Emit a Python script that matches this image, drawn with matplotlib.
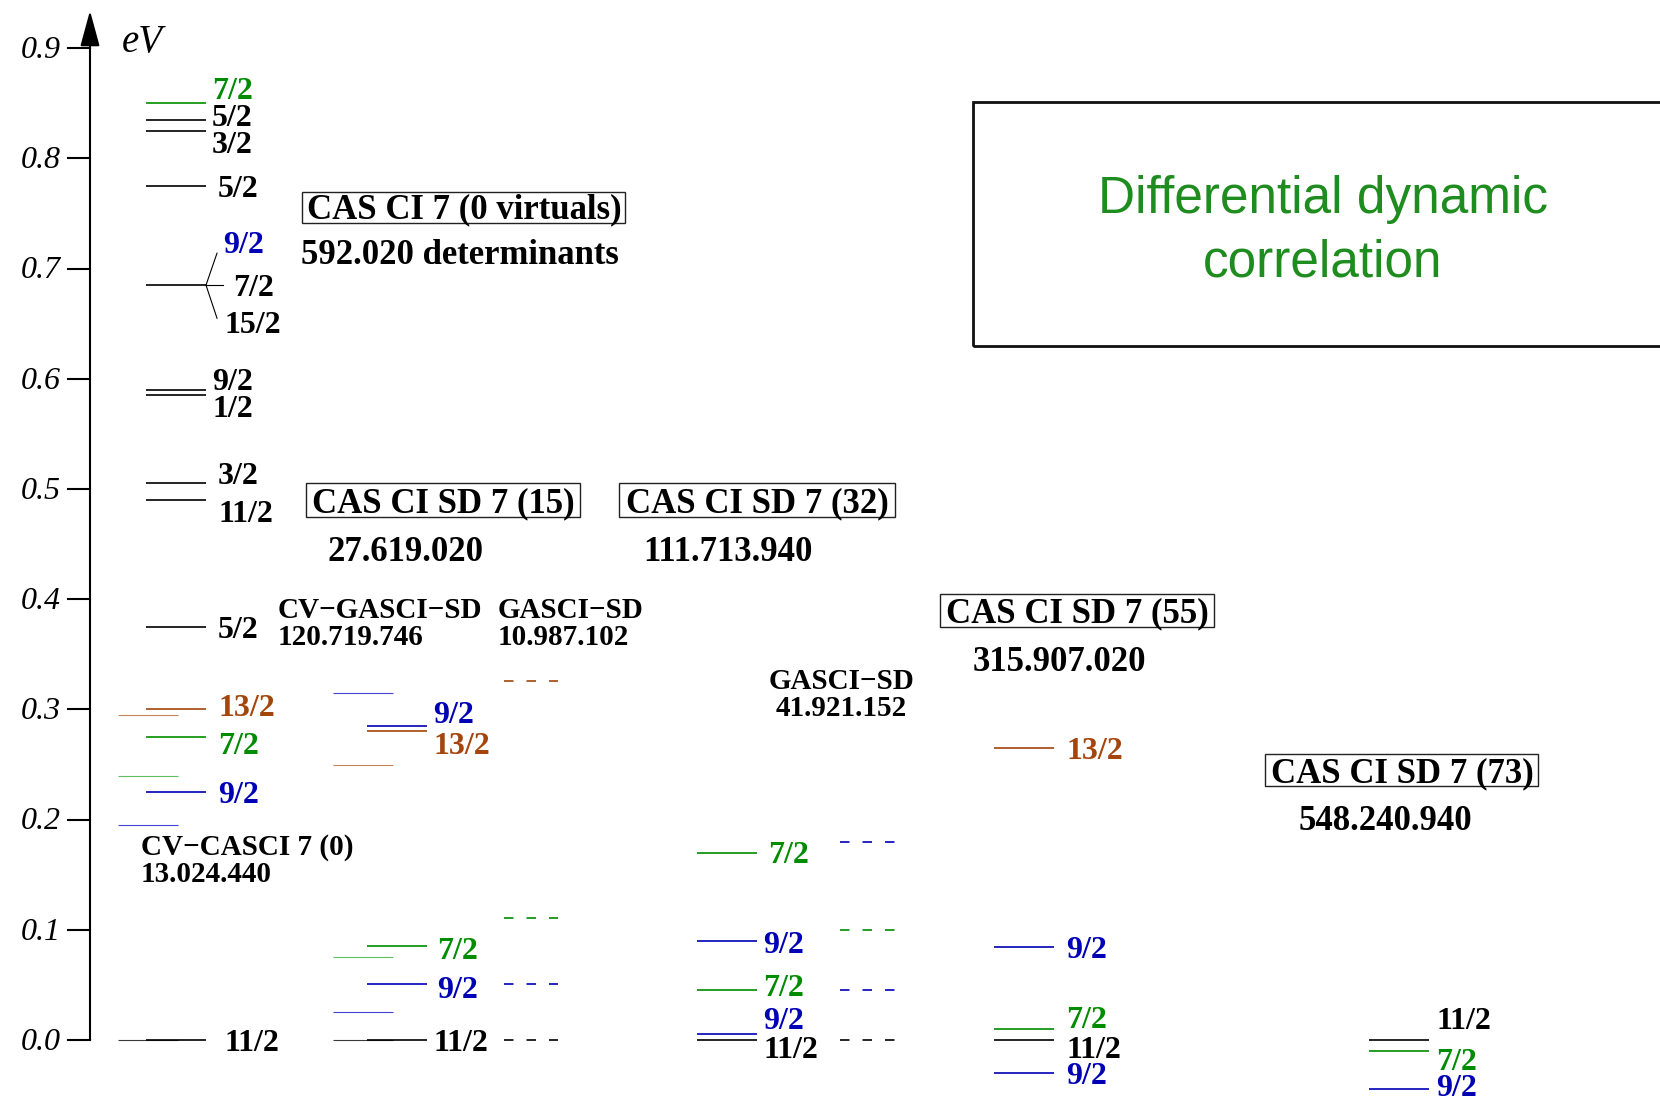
import matplotlib
matplotlib.use('Agg')
import matplotlib.pyplot as plt
from matplotlib.patches import Rectangle

plt.rcParams['font.family'] = ['Liberation Serif', 'DejaVu Serif']

# colours
K, OR, GR, BL = '#000000', '#a3450c', '#008c00', '#0000b4'
OR_L, GR_L, BL_L, K_L = '#c98458', '#5dbf5d', '#4444d4', '#3a3a3a'

# ---- data: energies in eV ----
# CV-CASCI 7 (0)  (thin lines, no labels)
cvcas_E = [0.295, 0.240, 0.195, 0.0]
cvcas_c = [OR_L, GR_L, BL_L, K_L]

# CAS CI 7 (0 virtuals)
cas0_E = [0.850, 0.835, 0.825, 0.775, 0.685, 0.590, 0.585, 0.505, 0.490,
          0.375, 0.300, 0.275, 0.225, 0.0]
cas0_c = [GR, K, K, K, K, K, K, K, K, K, OR, GR, BL, K]
cas0_lab = ['7/2', '5/2', '3/2', '5/2', '9/2', '7/2', '15/2', '9/2', '1/2',
            '3/2', '11/2', '5/2', '13/2', '7/2', '9/2', '11/2']
cas0_labc = [GR, K, K, K, BL, K, K, K, K, K, K, K, OR, GR, BL, K]

# CV-GASCI-SD (thin lines)
cvgas_E = [0.315, 0.250, 0.0755, 0.0252, 0.0]
cvgas_c = [BL_L, OR_L, GR_L, BL_L, K_L]

# CAS CI SD 7 (15)
sd15_E = [0.285, 0.280, 0.0855, 0.0506, 0.0]
sd15_c = [BL, OR, GR, BL, K]
sd15_lab = ['9/2', '13/2', '7/2', '9/2', '11/2']

# GASCI-SD 10.987.102 (dashed)
gas1_E = [0.3256, 0.1106, 0.0506, 0.0]
gas1_c = [OR, GR, BL, K]

# CAS CI SD 7 (32)
sd32_E = [0.170, 0.090, 0.0454, 0.0052, 0.0]
sd32_c = [GR, BL, GR, BL, K]
sd32_lab = ['7/2', '9/2', '7/2', '9/2', '11/2']

# GASCI-SD 41.921.152 (dashed)
gas2_E = [0.180, 0.0998, 0.0454, 0.0]
gas2_c = [BL, GR, BL, K]

# CAS CI SD 7 (55)
sd55_E = [0.265, 0.0847, 0.010, 0.0, -0.030]
sd55_c = [OR, BL, GR, K, BL]
sd55_lab = ['13/2', '9/2', '7/2', '11/2', '9/2']

# CAS CI SD 7 (73)
sd73_E = [0.0, -0.0097, -0.0447]
sd73_c = [K, GR, BL]
sd73_lab = ['11/2', '7/2', '9/2']

yticks = [0.0, 0.1, 0.2, 0.3, 0.4, 0.5, 0.6, 0.7, 0.8, 0.9]

# ---- layout (x in pixels, label heights in eV) ----
cas0_laby = [0.864, 0.839, 0.815, 0.775, 0.724, 0.685, 0.651, 0.600, 0.575,
             0.5145, 0.480, 0.375, 0.304, 0.2695, 0.225, 0.0]
cas0_labx = [212, 212, 212, 218, 223, 233, 224, 212, 212,
             218, 218, 218, 218, 218, 218, 224]
sd15_laby = [0.2976, 0.2695, 0.0835, 0.048, 0.0]
sd15_labx = [433, 433, 437, 437, 433]
sd32_laby = [0.170, 0.089, 0.050, 0.020, -0.0064]
sd32_labx = [768, 763, 763, 763, 763]
sd55_laby = [0.265, 0.084, 0.021, -0.0064, -0.030]
sd73_laby = [0.020, -0.0172, -0.0408]

fig = plt.figure(figsize=(16.6, 10.96), dpi=100)
ax = fig.add_axes([0, 0, 1, 1])
ax.set_xlim(0, 1660)
ax.set_ylim((1040 - 1096) / 1102, 1040 / 1102)
ax.axis('off')

LW, LW_T = 1.2, 0.8
FS = 23
dash = (0, (5.7, 7.8))
DY = 0.003  # visual centring of digits


def levels(E, cols, x0, x1, lw=LW, ls='-'):
    for e, c in zip(E, cols):
        ax.plot([x0, x1], [e, e], color=c, lw=lw, ls=ls, solid_capstyle='butt',
                dash_capstyle='butt')


def txt(x, y, s, fs, ha='left', **kw):
    ax.text(x, y - DY, s, fontsize=fs, fontweight='bold', ha=ha, va='center', **kw)


def labels(lab, cols, xs, ys, fs=FS):
    for t, c, x, y in zip(lab, cols, xs, ys):
        txt(x, y, t, fs, color=c)


def box(x0, x1, e0, e1):
    ax.add_patch(Rectangle((x0, e0), x1 - x0, e1 - e0, fill=False, ec='#222222', lw=1.0))


# energy axis
ax.annotate('', xy=(90, 0.934), xytext=(90, 0.0),
            arrowprops=dict(arrowstyle='-|>,head_length=1.1,head_width=0.3',
                            mutation_scale=20, lw=1.5, color='k', shrinkA=0, shrinkB=0))
for t in yticks:
    ax.plot([68, 90], [t, t], color='k', lw=1.5)
    ax.text(61, t - 0.002, f'{t:.1f}', fontsize=FS, style='italic', ha='right', va='center')
ax.text(122, 0.905, 'eV', fontsize=28, style='italic', ha='left', va='center')

# columns
levels(cvcas_E, cvcas_c, 118, 178, lw=LW_T)
levels(cas0_E, cas0_c, 146, 206)
labels(cas0_lab, cas0_labc, cas0_labx, cas0_laby)
# fan for the degenerate 0.685 level
for ye, xe in [(0.714, 217), (0.685, 223), (0.655, 217)]:
    ax.plot([206, xe], [0.685, ye], color='k', lw=0.8)

levels(cvgas_E, cvgas_c, 333, 393, lw=LW_T)
levels(sd15_E, sd15_c, 367, 427)
labels(sd15_lab, sd15_c, sd15_labx, sd15_laby)

levels(gas1_E, gas1_c, 504, 558, ls=dash)

levels(sd32_E, sd32_c, 697, 757)
labels(sd32_lab, sd32_c, sd32_labx, sd32_laby)

levels(gas2_E, gas2_c, 840, 895, ls=dash)

levels(sd55_E, sd55_c, 994, 1054)
labels(sd55_lab, sd55_c, [1066] * 5, sd55_laby)

levels(sd73_E, sd73_c, 1369, 1429)
labels(sd73_lab, sd73_c, [1436] * 3, sd73_laby)

# method annotations
big = 25
small = 21
box(302, 625, 0.7410, 0.7699)
txt(307, 0.756, 'CAS CI 7 (0 virtuals)', big)
txt(301, 0.715, '592.020 determinants', big)
box(306, 580, 0.4749, 0.5056)
txt(443, 0.490, 'CAS CI SD 7 (15)', big, ha='center')
txt(405, 0.4456, '27.619.020', big, ha='center')
box(619, 895, 0.4749, 0.5056)
txt(757, 0.490, 'CAS CI SD 7 (32)', big, ha='center')
txt(728, 0.4456, '111.713.940', big, ha='center')
box(940, 1214, 0.3750, 0.4048)
txt(1077, 0.390, 'CAS CI SD 7 (55)', big, ha='center')
txt(1059, 0.3457, '315.907.020', big, ha='center')
box(1265, 1538, 0.2309, 0.2597)
txt(1402, 0.245, 'CAS CI SD 7 (73)', big, ha='center')
txt(1385, 0.2015, '548.240.940', big, ha='center')

txt(141, 0.178, 'CV\u2212CASCI 7 (0)', small)
txt(141, 0.153, '13.024.440', small)
txt(278, 0.393, 'CV\u2212GASCI\u2212SD', small)
txt(278, 0.368, '120.719.746', small)
txt(498, 0.393, 'GASCI\u2212SD', small)
txt(498, 0.368, '10.987.102', small)
txt(841, 0.3285, 'GASCI\u2212SD', small, ha='center')
txt(841, 0.304, '41.921.152', small, ha='center')

# differential dynamic correlation box
ax.add_patch(Rectangle((973, 0.630), 800, 0.221, fill=False, ec='#111111', lw=2.0))
ax.text(1323, 0.734, 'Differential dynamic\ncorrelation', fontsize=37, color='#1e8c1e',
        family=['Liberation Sans', 'DejaVu Sans'], ha='center', va='center', linespacing=1.38)

fig.savefig('out.png', dpi=100)
